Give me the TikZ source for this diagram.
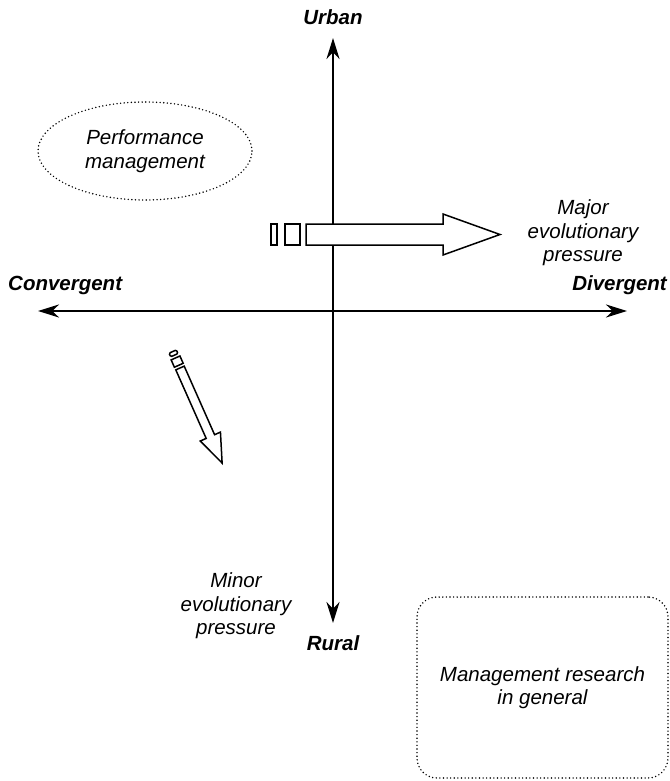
\documentclass[tikz,border=0pt]{standalone}
\usepackage{fontspec}
\setmainfont{Liberation Sans}
\usetikzlibrary{arrows.meta,shapes.geometric}
\begin{document}
\begin{tikzpicture}[x=1bp,y=-1bp,
  axisline/.style={line width=2.6bp,
    {Stealth[length=21bp,width=13bp]}-{Stealth[length=21bp,width=13bp]}},
  label/.style={font=\bfseries\itshape\fontsize{20.5bp}{23.5bp}\selectfont, inner sep=0pt},
  note/.style={font=\itshape\fontsize{20.5bp}{23.5bp}\selectfont, align=center, inner sep=0pt},
  hollow/.style={draw=black, fill=white, line width=1.5bp, line join=miter},
  dotline/.style={draw=black, line width=1.6bp, dash pattern=on 0bp off 3.6bp, line cap=round}
]
\useasboundingbox (0,0) rectangle (670,781);

% axes
\coordinate (west) at (38,311);
\coordinate (east) at (627,311);
\coordinate (north) at (333,38);
\coordinate (south) at (333,623);
\draw[axisline] (west) -- (east);
\draw[axisline] (south) -- (north);

% axis labels
\node[label] (urban) at (333,17) {Urban};
\node[label] (rural) at (333,643) {Rural};
\node[label, anchor=west] (conv) at (8,285) {Convergent};
\node[label, anchor=east] (div) at (667,285) {Divergent};

% large hollow arrow with two tail blocks
\draw[hollow] (271,224) rectangle (277,245);
\draw[hollow] (285,224) rectangle (300,245);
\draw[hollow] (306,224) -- (443,224) -- (443,214) -- (500,234.5)
  -- (443,255) -- (443,245) -- (306,245) -- cycle;
\node[note] (major) at (583,233) {Major\\evolutionary\\pressure};

% small hollow arrow, tilted downwards
\begin{scope}[shift={(180,368)}, rotate=-66.1]
  \draw[hollow, rounded corners=1.2bp] (-18,-4) rectangle (-14,4);
  \draw[hollow] (-11,-4.8) rectangle (-3,4.8);
  \draw[hollow] (0,-4.6) -- (75,-4.6) -- (75,-11) -- (104,0)
    -- (75,11) -- (75,4.6) -- (0,4.6) -- cycle;
\end{scope}
\node[note] (minor) at (236,606) {Minor\\evolutionary\\pressure};

% regions
\node[note, ellipse, dotline, minimum width=214bp, minimum height=98bp]
  (perf) at (145,151) {Performance\\management};
\node[note, rectangle, rounded corners=20bp, dotline,
  minimum width=251bp, minimum height=181bp]
  (general) at (542.5,687.5) {Management research\\in general};
\end{tikzpicture}
\end{document}
